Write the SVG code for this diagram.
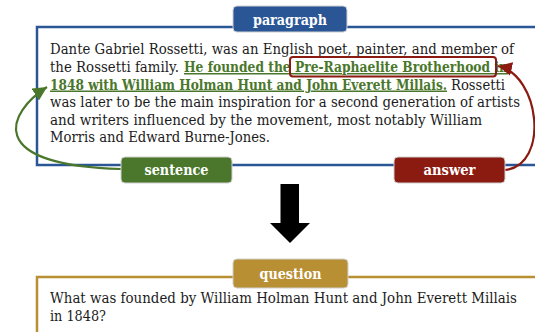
<svg xmlns="http://www.w3.org/2000/svg" width="535" height="332" viewBox="0 0 535 332">
<style>
.t{font-family:"DejaVu Serif","Liberation Serif",serif;font-size:15px;fill:#1c1c1c}
.hl{font-weight:bold;fill:#4a772b;text-decoration:underline}
.lbl{font-family:"DejaVu Serif","Liberation Serif",serif;font-size:15px;font-weight:bold;fill:#ffffff;text-anchor:middle}
.box{fill:#ffffff;stroke-width:2.5}
.tag{stroke:#d0d0d0;stroke-width:1}
</style>
<defs>
<marker id="ag" markerUnits="userSpaceOnUse" markerWidth="16" markerHeight="14" refX="14" refY="7" orient="auto"><path d="M0,0 L14,7 L0,14 z" fill="#4a772b"/></marker>
<marker id="ar" markerUnits="userSpaceOnUse" markerWidth="16" markerHeight="14" refX="14" refY="7" orient="auto"><path d="M0,0 L14,7 L0,14 z" fill="#8b1a10"/></marker>
</defs>
<rect width="535" height="332" fill="#ffffff"/>
<g id="paragraph">
<rect class="box" x="37" y="27" width="540" height="138" stroke="#2a5696"/>
<text class="t" x="50" y="54" textLength="464" lengthAdjust="spacingAndGlyphs">Dante Gabriel Rossetti, was an English poet, painter, and member of</text>
<text class="t" x="50" y="72" textLength="129" lengthAdjust="spacingAndGlyphs">the Rossetti family.</text>
<text class="t hl" x="184" y="72" textLength="324" lengthAdjust="spacingAndGlyphs">He founded the Pre-Raphaelite Brotherhood in</text>
<text class="t hl" x="50" y="89.5" textLength="397" lengthAdjust="spacingAndGlyphs">1848 with William Holman Hunt and John Everett Millais.</text>
<text class="t" x="451" y="89.5" textLength="54" lengthAdjust="spacingAndGlyphs">Rossetti</text>
<text class="t" x="50" y="107" textLength="470" lengthAdjust="spacingAndGlyphs">was later to be the main inspiration for a second generation of artists</text>
<text class="t" x="50" y="124.5" textLength="432" lengthAdjust="spacingAndGlyphs">and writers influenced by the movement, most notably William</text>
<text class="t" x="50" y="142" textLength="220" lengthAdjust="spacingAndGlyphs">Morris and Edward Burne-Jones.</text>
<rect x="290" y="57" width="206" height="19.5" rx="3" fill="none" stroke="#8b1a10" stroke-width="2"/>
</g>
<g id="paragraph-label">
<rect class="tag" x="233" y="6" width="114" height="26" rx="4" fill="#2a5696"/>
<text class="lbl" x="290" y="24.5" textLength="74" lengthAdjust="spacingAndGlyphs">paragraph</text>
</g>
<g id="question">
<rect class="box" x="37" y="277" width="540" height="100" stroke="#b88f33"/>
<text class="t" x="50" y="303" textLength="467" lengthAdjust="spacingAndGlyphs">What was founded by William Holman Hunt and John Everett Millais</text>
<text class="t" x="50" y="321" textLength="56" lengthAdjust="spacingAndGlyphs">in 1848?</text>
</g>
<g id="question-label">
<rect class="tag" x="233" y="259" width="115" height="29" rx="4" fill="#b88f33"/>
<text class="lbl" x="290.5" y="279" textLength="62" lengthAdjust="spacingAndGlyphs">question</text>
</g>
<g id="connectors" fill="none" stroke-width="2.2">
<path d="M121,169 C-18,165 8,112 47,87" stroke="#4a772b" marker-end="url(#ag)"/>
<path d="M505,170 C550,165 540,75 498,66" stroke="#8b1a10" marker-end="url(#ar)"/>
<polygon points="280.5,184 299,184 299,223 310,223 290,243 270,223 280.5,223" fill="#000000" stroke="none"/>
</g>
<g id="sentence">
<rect class="tag" x="121" y="157" width="111" height="26" rx="4" fill="#4a772b"/>
<text class="lbl" x="176.5" y="175" textLength="64" lengthAdjust="spacingAndGlyphs">sentence</text>
</g>
<g id="answer">
<rect class="tag" x="394" y="157" width="111" height="26" rx="4" fill="#8b1a10"/>
<text class="lbl" x="449.5" y="175" textLength="52" lengthAdjust="spacingAndGlyphs">answer</text>
</g>
</svg>
